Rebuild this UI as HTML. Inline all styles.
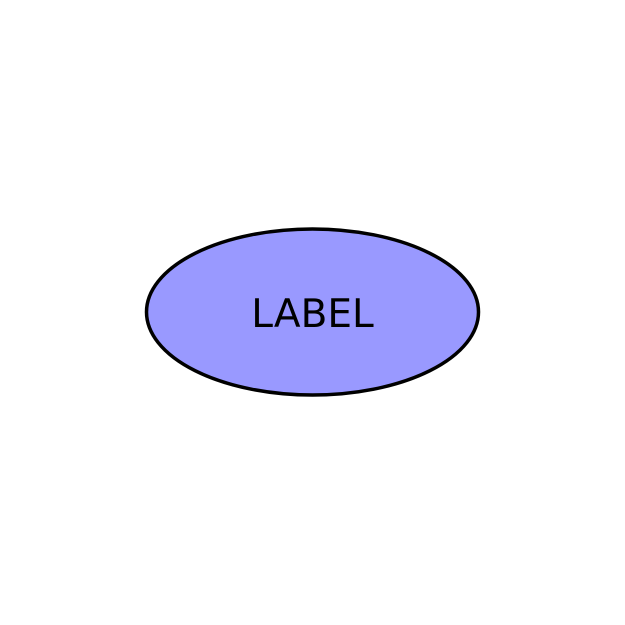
<!DOCTYPE html>
<html><head><meta charset="utf-8"><style>
html,body{margin:0;padding:0;background:#fff;}
svg{display:block;}
</style></head><body>
<svg width="625" height="625" viewBox="0 0 625 625">
<ellipse cx="312.5" cy="312" rx="166" ry="83" fill="#9999ff" stroke="#000" stroke-width="3.5"/>
<text x="312.5" y="327" text-anchor="middle" font-family="DejaVu Sans, Liberation Sans, sans-serif" font-size="39" fill="#000">LABEL</text>
</svg>
</body></html>
